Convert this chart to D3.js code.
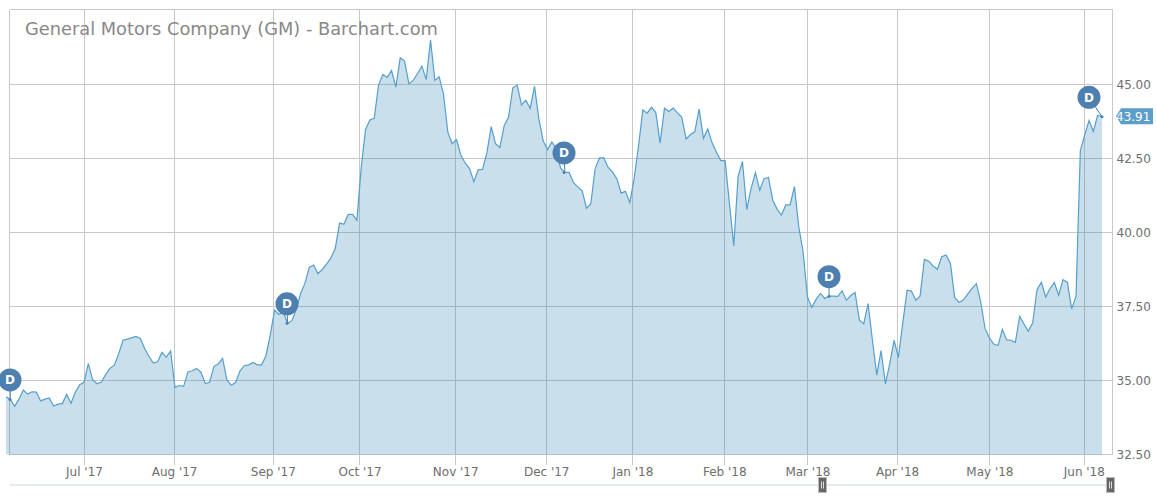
<!DOCTYPE html>
<html lang="en">
<head>
    <meta charset="UTF-8">
    <title>General Motors Company (GM) - Barchart.com</title>
    <style>
        body { margin: 0; background: #fff; font-family: "DejaVu Sans", sans-serif; }
        svg { display: block; }
        .grid line { stroke: #c8c8c8; stroke-width: 1; shape-rendering: crispEdges; }
        .axis path, .axis line { display: none; }
        .axis text { font-family: "DejaVu Sans", sans-serif; font-size: 12px; fill: #6e6e6e; }
    </style>
</head>
<body>
    <div id="chart"></div>
    <script src="https://d3js.org/d3.v7.min.js"></script>
    <script>
// Daily closes, one per trading day
const closes = [
    34.45, 34.36, 34.13, 34.37, 34.68, 34.54, 34.62, 34.61, 34.31, 34.37,
    34.41, 34.14, 34.20, 34.22, 34.53, 34.23, 34.60, 34.86, 34.94, 35.57,
    35.03, 34.89, 34.95, 35.20, 35.41, 35.52, 35.89, 36.36, 36.40, 36.44,
    36.49, 36.42, 36.08, 35.82, 35.59, 35.63, 35.95, 35.79, 36.00, 34.77,
    34.83, 34.80, 35.29, 35.33, 35.41, 35.28, 34.90, 34.94, 35.48, 35.56,
    35.75, 35.01, 34.84, 34.93, 35.32, 35.50, 35.53, 35.61, 35.53, 35.53,
    35.83, 36.53, 37.38, 37.23, 37.32, 36.93, 37.02, 37.40, 37.94, 38.28,
    38.82, 38.90, 38.61, 38.75, 38.93, 39.14, 39.46, 40.32, 40.28, 40.61,
    40.61, 40.41, 42.20, 43.48, 43.80, 43.86, 44.98, 45.34, 45.24, 45.47,
    44.91, 45.90, 45.79, 45.03, 45.14, 45.37, 45.62, 45.17, 46.50, 45.14,
    45.26, 44.67, 43.38, 43.00, 43.14, 42.61, 42.35, 42.16, 41.72, 42.12,
    42.13, 42.69, 43.58, 43.00, 42.87, 43.61, 43.89, 44.89, 44.98, 44.31,
    44.47, 44.19, 44.94, 43.85, 43.10, 42.80, 43.06, 42.84, 42.18, 42.03,
    42.03, 41.68, 41.54, 41.41, 40.82, 40.97, 42.16, 42.52, 42.52, 42.20,
    42.05, 41.82, 41.33, 41.39, 41.01, 41.82, 42.90, 44.14, 44.03, 44.23,
    44.05, 43.02, 44.20, 44.09, 44.20, 44.04, 43.89, 43.16, 43.31, 43.40,
    44.17, 43.18, 43.50, 43.03, 42.71, 42.43, 42.43, 40.98, 39.55, 41.90,
    42.40, 40.78, 41.49, 42.02, 41.43, 41.82, 41.86, 41.09, 40.79, 40.59,
    40.93, 40.93, 41.55, 40.19, 39.35, 37.83, 37.47, 37.74, 37.94, 37.77,
    37.85, 37.85, 37.84, 38.03, 37.71, 37.87, 37.97, 37.04, 36.91, 37.60,
    36.37, 35.19, 36.01, 34.89, 35.56, 36.36, 35.78, 36.93, 38.05, 38.02,
    37.71, 37.85, 39.09, 39.03, 38.87, 38.76, 39.18, 39.24, 38.96, 37.80,
    37.64, 37.72, 37.92, 38.11, 38.27, 37.66, 36.76, 36.44, 36.23, 36.18,
    36.73, 36.37, 36.36, 36.29, 37.17, 36.91, 36.66, 36.95, 38.07, 38.32,
    37.82, 38.11, 38.31, 37.88, 38.41, 38.32, 37.42, 37.84, 42.76, 43.29,
    43.78, 43.42, 43.96, 43.91
];

// Month ticks, given as positions along the trading-day axis
const monthLabels = ["Jul '17", "Aug '17", "Sep '17", "Oct '17", "Nov '17", "Dec '17",
    "Jan '18", "Feb '18", "Mar '18", "Apr '18", "May '18", "Jun '18"];
const monthPositions = [18, 38.8, 61.6, 81.6, 103.7, 124.7, 144.6, 165.8, 185, 205.7, 227, 248.8];

const priceTicks = [32.5, 35, 37.5, 40, 42.5, 45];

// Trading days that carry a dividend flag
const dividendDays = [1, 65, 129, 190, 253];

const title = "General Motors Company (GM) - Barchart.com";

const width = 1156;
const height = 500;
const plot = { left: 9.5, right: 1112.5, top: 9.5, bottom: 454.5 };

const svg = d3.select("#chart")
    .append("svg")
    .attr("width", width)
    .attr("height", height);

const x = d3.scaleLinear().domain([0, closes.length - 1]).range([6, 1102]);
const y = d3.scaleLinear().domain([32.5, 45]).range([454.5, 84.5]);

// Grid and frame
const grid = svg.append("g").attr("class", "grid");

grid.selectAll(".hline")
    .data(priceTicks)
    .enter()
    .append("line")
    .attr("x1", plot.left)
    .attr("x2", plot.right)
    .attr("y1", d => Math.floor(y(d)) + 0.5)
    .attr("y2", d => Math.floor(y(d)) + 0.5);

grid.selectAll(".vline")
    .data(monthPositions)
    .enter()
    .append("line")
    .attr("x1", d => Math.round(x(d)) + 0.5)
    .attr("x2", d => Math.round(x(d)) + 0.5)
    .attr("y1", plot.top)
    .attr("y2", plot.bottom + 10);

[
    [plot.left, plot.top, plot.right, plot.top],
    [plot.left, plot.top, plot.left, plot.bottom],
    [plot.right, plot.top, plot.right, plot.bottom]
].forEach(f => {
    grid.append("line")
        .attr("x1", f[0]).attr("y1", f[1])
        .attr("x2", f[2]).attr("y2", f[3]);
});

// Area and line
const area = d3.area()
    .x((d, i) => x(i))
    .y0(y(32.5))
    .y1(d => y(d));

const line = d3.line()
    .x((d, i) => x(i))
    .y(d => y(d));

svg.append("path")
    .attr("d", area(closes))
    .attr("fill", "#2a7fb5")
    .attr("fill-opacity", 0.25);

svg.append("path")
    .attr("d", line(closes))
    .attr("fill", "none")
    .attr("stroke", "#559fcc")
    .attr("stroke-width", 1.2);

// Axes
svg.append("g")
    .attr("class", "axis")
    .attr("transform", `translate(${plot.right - 2},0)`)
    .call(d3.axisRight(y).tickValues(priceTicks).tickFormat(d3.format(".2f")).tickSize(0).tickPadding(6));

svg.append("g")
    .attr("class", "axis")
    .attr("transform", `translate(0,${plot.bottom + 10})`)
    .call(d3.axisBottom(x)
        .tickValues(monthPositions)
        .tickFormat((d, i) => monthLabels[i])
        .tickSize(0)
        .tickPadding(3));

// Dividend flags
const flags = svg.selectAll(".flag")
    .data(dividendDays)
    .enter()
    .append("g")
    .attr("class", "flag");

const pinX = d => Math.floor(x(d));
const flagX = d => Math.min(pinX(d), 1089);
const flagY = d => y(closes[d]) - 19.5;

flags.append("line")
    .attr("x1", flagX)
    .attr("y1", flagY)
    .attr("x2", d => x(d))
    .attr("y2", d => y(closes[d]))
    .attr("stroke", "#4d7fb0")
    .attr("stroke-width", 1);

flags.append("circle")
    .attr("cx", pinX)
    .attr("cy", d => y(closes[d]))
    .attr("r", 1.5)
    .attr("fill", "#4d7fb0");

flags.append("circle")
    .attr("cx", flagX)
    .attr("cy", flagY)
    .attr("r", 11.5)
    .attr("fill", "#4d7fb0");

flags.append("text")
    .attr("x", flagX)
    .attr("y", d => flagY(d) + 4.5)
    .attr("text-anchor", "middle")
    .attr("font-size", 12)
    .attr("font-weight", "bold")
    .attr("fill", "#fff")
    .text("D");

// Last price tag
const lastPrice = closes[closes.length - 1];
const tagY = y(lastPrice) - 0.5;

svg.append("path")
    .attr("d", d3.line()([
        [1116, tagY], [1121, tagY - 8], [1153, tagY - 8], [1153, tagY + 8], [1121, tagY + 8]
    ]) + "Z")
    .attr("fill", "#5a9ec9");

svg.append("text")
    .attr("x", 1116)
    .attr("y", tagY + 4.5)
    .attr("font-size", 12)
    .attr("fill", "#fff")
    .text(lastPrice.toFixed(2));

// Title
svg.append("text")
    .attr("x", 25)
    .attr("y", 35)
    .attr("font-size", 17.8)
    .attr("fill", "#888")
    .text(title);

// Range navigator
svg.append("rect")
    .attr("x", 10)
    .attr("y", 484)
    .attr("width", 1102)
    .attr("height", 2)
    .attr("fill", "#e1ecf4");

const handles = svg.selectAll(".handle")
    .data([822.5, 1110.5])
    .enter()
    .append("g")
    .attr("class", "handle")
    .attr("transform", d => `translate(${d},477.5)`);

handles.append("rect")
    .attr("x", -4)
    .attr("width", 8)
    .attr("height", 15)
    .attr("fill", "#666")
    .attr("stroke", "#bbb");

handles.selectAll(".grip")
    .data([-1, 1])
    .enter()
    .append("line")
    .attr("x1", d => d)
    .attr("x2", d => d)
    .attr("y1", 4)
    .attr("y2", 11)
    .attr("stroke", "#ddd")
    .attr("stroke-width", 1);
    </script>
</body>
</html>
